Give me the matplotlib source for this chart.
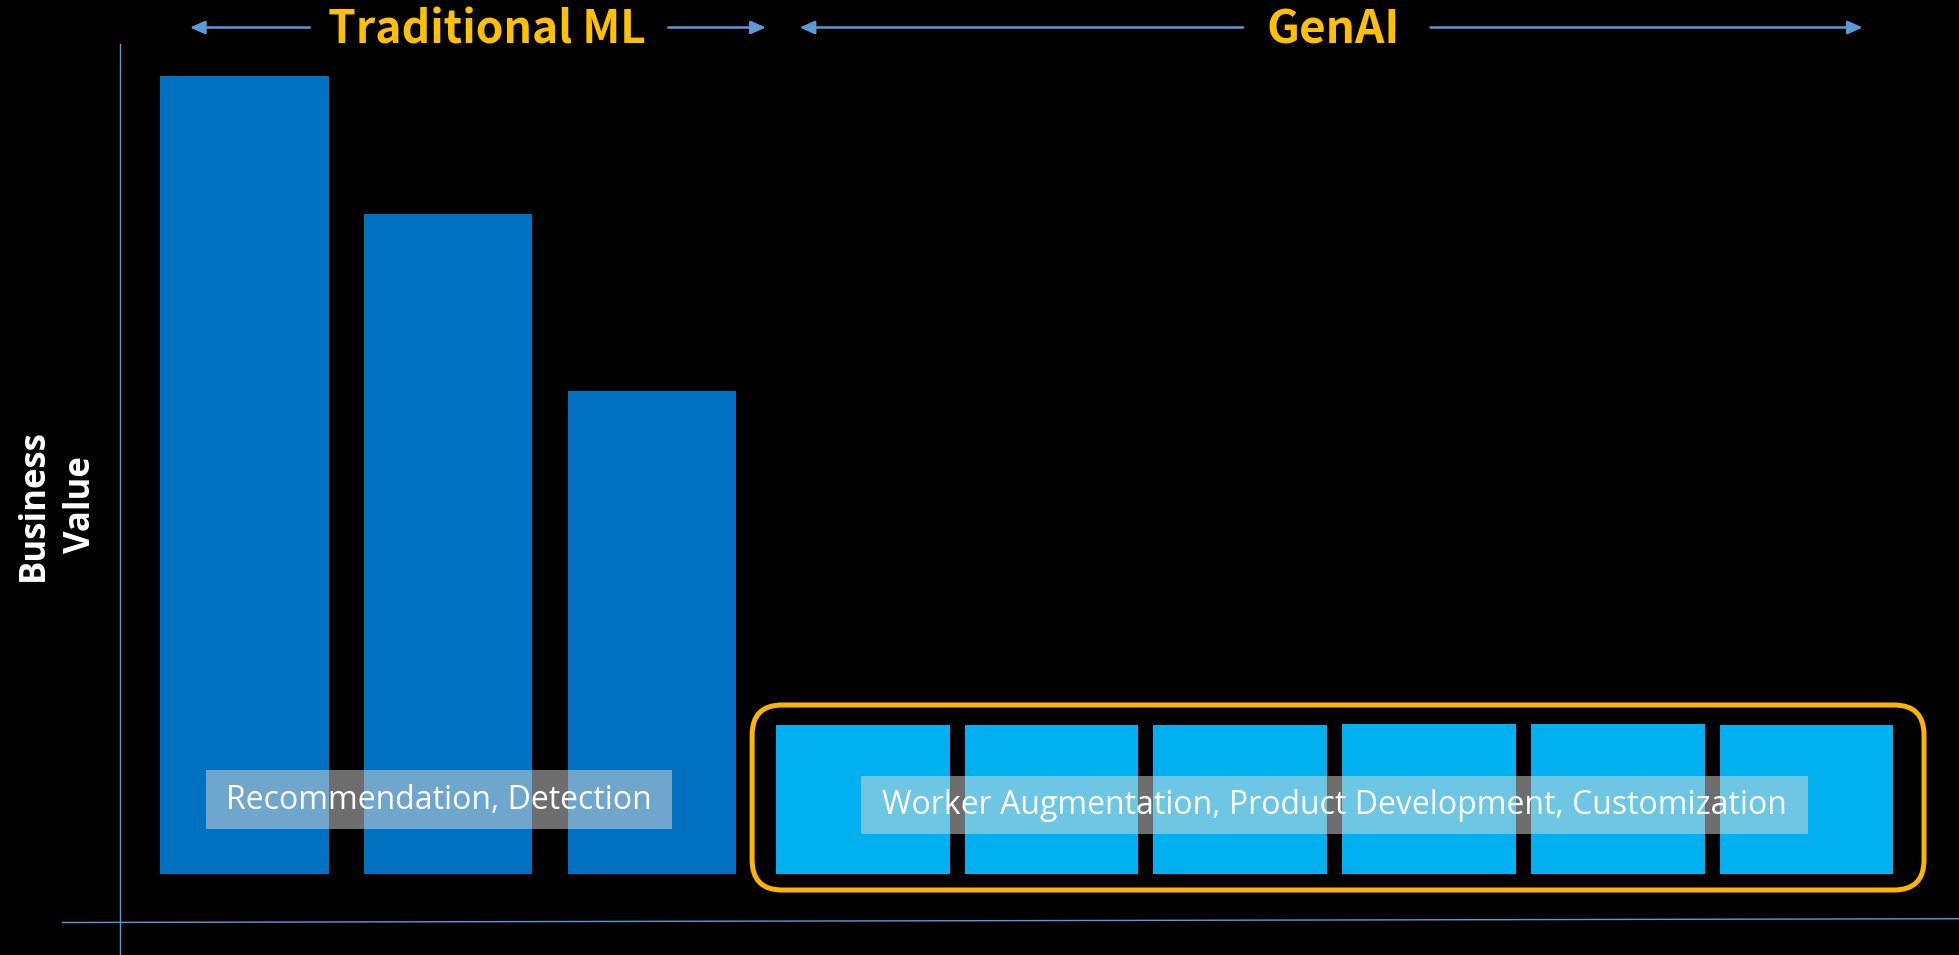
import matplotlib
matplotlib.use("Agg")
import matplotlib.pyplot as plt
from matplotlib.patches import FancyBboxPatch, Rectangle

# ---- data ----
trad_values = [638, 528, 386]
genai_values = [119, 119, 119, 120, 120, 119]
group_titles = ["Traditional ML", "GenAI"]
trad_label = "Recommendation, Detection"
genai_label = "Worker Augmentation, Product Development, Customization"
y_label = "Business\nValue"

# ---- layout (canvas in reference-display units) ----
W, H = 1568, 764
BASE = H - 699
DARK = "#0070C0"
LIGHT = "#00B0F0"
AXIS = "#5B9BD5"
GOLD = "#FFC000"
FONT = ["Noto Sans CJK KR", "DejaVu Sans"]
FONT2 = ["Open Sans", "DejaVu Sans"]

fig = plt.figure(figsize=(19.59, 9.55), dpi=100, facecolor="black")
ax = fig.add_axes([0, 0, 1, 1])
ax.set_facecolor("black")
ax.set_xlim(0, W)
ax.set_ylim(0, H)
ax.axis("off")

def Y(yd):
    return H - yd

# axes lines
ax.plot([96, 96], [Y(35), Y(764)], color=AXIS, lw=1.0)
ax.plot([50, W], [Y(738), Y(735)], color=AXIS, lw=1.0)

# bars
trad_x = [195.5 + i * 163.2 for i in range(len(trad_values))]
genai_x = [690.5 + i * 151.1 for i in range(len(genai_values))]
ax.bar(trad_x, trad_values, width=135, bottom=BASE, color=DARK, align="center")
ax.bar(genai_x, genai_values, width=139, bottom=BASE, color=LIGHT, align="center")

# gold rounded box
box = FancyBboxPatch((602, Y(712)), 1540 - 602, 712 - 564,
                     boxstyle="round,pad=0,rounding_size=24",
                     fill=False, edgecolor="#FFB400", lw=3.6, zorder=3)
ax.add_patch(box)

# translucent label boxes
BOXC = "#DCDCDC"
ax.add_patch(Rectangle((165, Y(663)), 538 - 165, 663 - 616, facecolor=BOXC,
                       alpha=0.5, edgecolor="none", zorder=4))
ax.text((165 + 538) / 2, Y(640), trad_label, color="white", fontsize=23,
        ha="center", va="center", family=FONT2, zorder=5)
ax.add_patch(Rectangle((689, Y(667)), 1447 - 689, 667 - 621, facecolor=BOXC,
                       alpha=0.5, edgecolor="none", zorder=4))
ax.text((689 + 1447) / 2, Y(644), genai_label, color="white", fontsize=23,
        ha="center", va="center", family=FONT2, zorder=5)

# group headers with arrows
ax.text(390, Y(24), group_titles[0], color=GOLD, fontsize=32, fontweight="bold",
        ha="center", va="center", family=FONT)
ax.text(1067, Y(24), group_titles[1], color=GOLD, fontsize=33, fontweight="bold",
        ha="center", va="center", family=FONT)
arrows = [(248, 152), (535, 613), (995, 640), (1145, 1491)]
for x0, x1 in arrows:
    ax.annotate("", xy=(x1, Y(22)), xytext=(x0, Y(22)),
                arrowprops=dict(arrowstyle="-|>,head_length=0.9,head_width=0.4",
                                color=AXIS, lw=1.8, shrinkA=0, shrinkB=0))

# y label
ax.text(46, Y(404), y_label, color="white", fontsize=25, fontweight="bold",
        rotation=90, ha="center", va="center", family=FONT2, linespacing=1.42)

fig.savefig("out.png", dpi=100, facecolor="black")
